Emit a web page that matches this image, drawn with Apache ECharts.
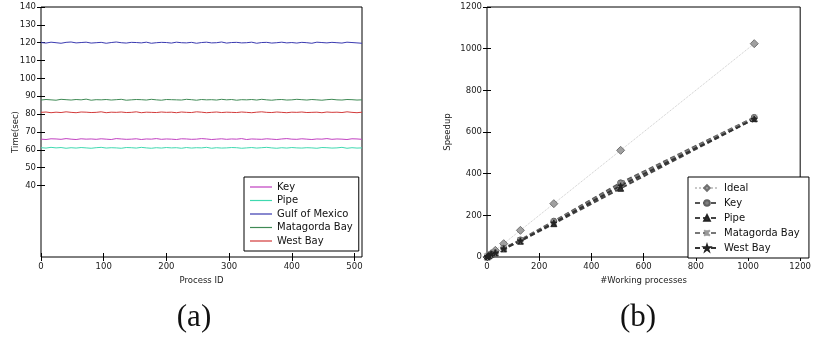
<!DOCTYPE html>
<html><head><meta charset="utf-8">
<script src="https://cdn.jsdelivr.net/npm/echarts@6/dist/echarts.min.js"></script>
<style>html,body{margin:0;padding:0;background:#fff}#c{width:814px;height:339px}</style>
</head><body><div id="c"></div>
<script>
// ---- (a) per-process time, sampled every 8 process IDs ----
const processStep = 8;
const gulf = [120.1,119.8,120.3,120.0,119.7,120.2,120.4,119.9,120.1,120.3,119.8,120.0,120.2,
  119.7,120.1,120.4,120.0,119.8,120.2,120.1,119.9,120.3,119.7,120.0,120.2,120.1,
  119.8,120.3,120.0,119.9,120.2,119.7,120.1,120.3,119.9,120.0,120.4,119.8,120.1,
  120.2,119.9,120.0,120.3,119.7,120.1,120.2,119.8,120.0,120.3,119.9,120.1,119.8,
  120.2,120.0,119.7,120.3,120.1,119.9,120.2,120.0,119.8,120.3,120.1,119.9,119.7];
const matagorda = [87.9,88.2,88.0,87.8,88.3,88.1,87.9,88.2,88.0,88.4,87.8,88.1,88.0,
  88.2,87.9,88.1,88.3,87.8,88.0,88.2,88.1,87.9,88.3,88.0,87.8,88.2,
  88.1,88.0,87.9,88.3,88.1,87.8,88.2,88.0,88.1,87.9,88.3,88.0,88.2,
  87.8,88.1,88.0,88.2,87.9,88.3,88.0,87.8,88.1,88.2,87.9,88.0,88.3,
  88.1,87.9,88.2,88.0,87.8,88.1,88.3,88.0,87.9,88.2,88.1,87.9,88.0];
const westBay = [81.0,81.2,80.8,81.1,80.9,81.3,81.0,80.8,81.2,81.1,80.9,81.0,81.3,
  80.8,81.1,81.0,81.2,80.9,81.0,81.3,80.8,81.1,81.0,80.9,81.2,81.0,
  81.1,80.8,81.2,81.0,80.9,81.3,81.1,80.8,81.0,81.2,80.9,81.1,81.0,
  80.9,81.2,81.0,80.8,81.1,81.3,81.0,80.9,81.2,81.0,80.8,81.1,81.0,
  81.2,80.9,81.0,81.1,80.8,81.2,81.0,81.1,80.9,81.3,81.0,80.8,81.1];
const key = [66.0,65.8,66.2,66.1,65.9,66.3,66.0,65.8,66.2,66.0,66.1,65.9,66.2,
  66.0,65.8,66.3,66.1,65.9,66.0,66.2,65.8,66.1,66.0,66.3,65.9,66.1,
  66.0,65.8,66.2,66.1,65.9,66.0,66.3,66.1,65.8,66.0,66.2,65.9,66.1,
  66.0,66.3,65.8,66.1,66.0,65.9,66.2,66.0,65.8,66.1,66.3,66.0,65.9,
  66.2,66.0,65.8,66.1,66.0,66.3,65.9,66.1,66.0,65.8,66.2,66.1,65.9];
const pipe = [61.2,61.0,61.4,61.1,61.3,60.9,61.2,61.0,61.3,61.1,60.9,61.2,61.4,
  61.0,61.2,61.1,60.9,61.3,61.2,61.0,61.4,61.1,60.9,61.2,61.0,61.3,
  61.1,61.2,60.9,61.3,61.0,61.2,61.1,61.4,60.9,61.2,61.0,61.1,61.3,
  61.2,60.9,61.1,61.3,61.0,61.2,61.4,61.1,60.9,61.2,61.0,61.3,61.1,
  61.0,61.2,61.1,60.9,61.3,61.2,61.0,61.1,61.4,60.9,61.2,61.0,61.1];
const timeTicks = [40,50,60,70,80,90,100,110,120,130,140];
const pidTicks = [0,100,200,300,400,500];

// ---- (b) speedup ----
const procs = [1,2,4,8,16,32,64,128,256,512,1024];
const ideal = [1,2,4,8,16,32,64,128,256,512,1024];
const keySp = [1,2,3.9,7.6,14.8,21,42,82,172,356,670];
const pipeSp = [1,1.9,3.8,7.3,14,20,39,76,160,330,664];
const mataSp = [1,2,3.9,7.5,14.6,21,41,80,168,350,668];
const westSp = [1,1.9,3.8,7.4,14.3,20.5,40,78,164,342,662];
const speedTicks = [0,200,400,600,800,1000,1200];

const FONT = 'DejaVu Sans';
const chart = echarts.init(document.getElementById('c'), null, {renderer:'canvas'});
const pts = arr => arr.map((v,i)=>[i*processStep, v]);
const pair = (xs, ys) => xs.map((x,i)=>[x, ys[i]]);

const lbl = {fontFamily:FONT, fontSize:8.5, color:'#222', formatter: v => String(v)};
function xAx(grid, min, max, ticks, pos, name){
  return {type:'value', gridIndex:grid, min, max, position:pos,
    name: name||'', nameLocation:'middle', nameGap:16,
    nameTextStyle:{fontFamily:FONT, fontSize:8.5, color:'#222'},
    axisLine:{show:false}, splitLine:{show:false},
    axisTick:{show:true, inside:true, length:4, customValues:ticks, lineStyle:{color:'#000'}},
    axisLabel:{show:pos==='bottom', customValues:ticks, margin:5, ...lbl}};
}
function yAx(grid, min, max, ticks, pos, name, gap){
  return {type:'value', gridIndex:grid, min, max, position:pos,
    name: name||'', nameLocation:'middle', nameGap:gap||20, nameMoveOverlap:false,
    nameTextStyle:{fontFamily:FONT, fontSize:8.5, color:'#222'},
    axisLine:{show:false}, splitLine:{show:false},
    axisTick:{show:true, inside:true, length:4, customValues:ticks, lineStyle:{color:'#000'}},
    axisLabel:{show:pos==='left', customValues:ticks, margin:5, ...lbl}};
}

const lineA = (name, data, color) => ({type:'line', name, data:pts(data), xAxisIndex:0, yAxisIndex:0,
  showSymbol:false, symbol:'none', lineStyle:{color, width:1}, itemStyle:{color}, animation:false});

const lineB = (name, data, symbol, fill, border, size, dash, lcolor, lw) => ({type:'line', name,
  data:pair(procs, data), xAxisIndex:2, yAxisIndex:2, symbol, symbolSize:size, showSymbol:true,
  itemStyle:{color:fill, borderColor:border, borderWidth:1},
  lineStyle:{color:lcolor, width:lw, type:dash}, animation:false, z: 3});

chart.setOption({
  animation:false,
  grid:[
    {left:41, right:452, top:7, bottom:82, show:true, borderColor:'#000', borderWidth:1, backgroundColor:'transparent'},
    {left:487, right:7, top:7, bottom:82, show:true, borderColor:'#000', borderWidth:1, backgroundColor:'transparent'}
  ],
  xAxis:[
    xAx(0,0,512,pidTicks,'bottom','Process ID'),
    xAx(0,0,512,pidTicks,'top'),
    xAx(1,0,1200,speedTicks,'bottom','#Working processes'),
    xAx(1,0,1200,speedTicks,'top')
  ],
  yAxis:[
    yAx(0,0,140,timeTicks,'left','Time(sec)',21),
    yAx(0,0,140,timeTicks,'right'),
    yAx(1,0,1200,speedTicks,'left','Speedup',35),
    yAx(1,0,1200,speedTicks,'right')
  ],
  legend:[
    {data:['Key','Pipe','Gulf of Mexico','Matagorda Bay','West Bay'], orient:'vertical',
     left:244, top:177, width:113, backgroundColor:'#fff', borderColor:'#000', borderWidth:1,
     padding:[5,6,5,6], itemGap:3.5, itemWidth:22, itemHeight:10,
     icon:'path://M0,4.4L22,4.4L22,5.6L0,5.6Z',
     textStyle:{fontFamily:FONT, fontSize:10, color:'#111'}},
    {data:['Ideal','Key ','Pipe ','Matagorda Bay ','West Bay '], orient:'vertical',
     left:688, top:177, backgroundColor:'#fff', borderColor:'#000', borderWidth:1,
     padding:[6,6,5,6], itemGap:5, itemWidth:24, itemHeight:7,
     textStyle:{fontFamily:FONT, fontSize:10, color:'#111'}}
  ],
  series:[
    lineA('Key', key, '#c03fc0'),
    lineA('Pipe', pipe, '#3fd9b0'),
    lineA('Gulf of Mexico', gulf, '#3a3ab0'),
    lineA('Matagorda Bay', matagorda, '#3f8a55'),
    lineA('West Bay', westBay, '#d23a3a'),
    lineB('Ideal', ideal, 'diamond', '#a0a0a0', '#707070', 8, 'dotted', '#c8c8c8', 1),
    lineB('Key ', keySp, 'circle', '#808080', '#606060', 6, [5,3], '#555', 2),
    lineB('Pipe ', pipeSp, 'triangle', '#333', '#222', 6, [5,3], '#444', 2),
    lineB('Matagorda Bay ', mataSp, 'path://M0,0L10,10M10,0L0,10M5,0L5,10', '#999', '#999', 6, [5,3], '#777', 2),
    lineB('West Bay ', westSp, 'path://M5,0L6.2,3.8L10,3.8L6.9,6.2L8.1,10L5,7.6L1.9,10L3.1,6.2L0,3.8L3.8,3.8Z', '#222', '#222', 6, [5,3], '#333', 2)
  ],
  graphic:[
    {type:'text', x:194, y:302, style:{text:'(a)', font:'31px "Liberation Serif"', fill:'#111', align:'center', verticalAlign:'top'}},
    {type:'text', x:638, y:302, style:{text:'(b)', font:'31px "Liberation Serif"', fill:'#111', align:'center', verticalAlign:'top'}}
  ]
});
</script></body></html>
